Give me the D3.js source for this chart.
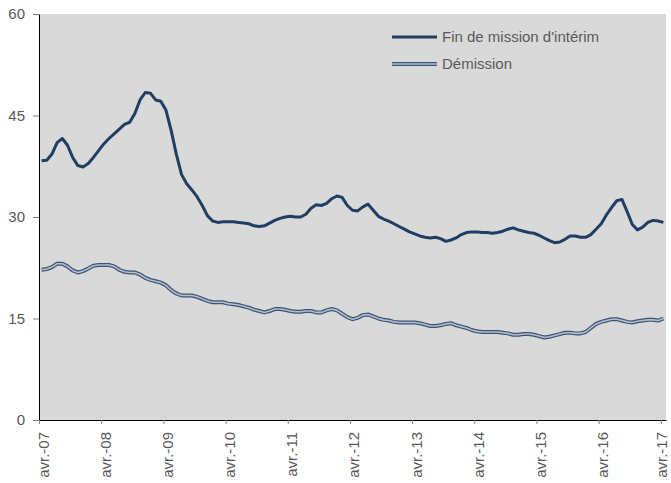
<!DOCTYPE html>
<html>
<head>
	<meta charset="utf-8">
	<title>Fin de mission d'intérim / Démission</title>
	<script src="https://cdn.jsdelivr.net/npm/d3@7/dist/d3.min.js"></script>
	<style type="text/css">
		html, body {
			margin: 0;
			padding: 0;
			background: #fff;
		}
		svg text {
			font-family: "Liberation Sans", Arial, sans-serif;
			font-size: 15px;
			fill: #595959;
		}
	</style>
</head>
<body>
	<div id="graph"></div>
	<script type="text/javascript">
		// monthly values, avr. 2007 -> avr. 2017
		var finMission = [
			38.3, 38.4, 39.3, 41.0, 41.6, 40.6, 38.8, 37.6, 37.4, 37.9, 38.8, 39.8,
			40.8, 41.6, 42.3, 43.0, 43.7, 44.0, 45.3, 47.3, 48.4, 48.3, 47.3, 47.1,
			45.8, 42.8, 39.3, 36.3, 34.9, 34.0, 33.0, 31.7, 30.2, 29.4, 29.2, 29.3,
			29.3, 29.3, 29.2, 29.1, 29.0, 28.7, 28.6, 28.7, 29.1, 29.5, 29.8, 30.0,
			30.1, 30.0, 30.0, 30.4, 31.3, 31.8, 31.7, 32.0, 32.7, 33.1, 32.9, 31.7,
			31.0, 30.9, 31.5, 31.9, 31.0, 30.1, 29.7, 29.4, 29.0, 28.6, 28.2, 27.8,
			27.5, 27.2, 27.0, 26.9, 27.0, 26.8, 26.4, 26.6, 26.9, 27.4, 27.7, 27.8,
			27.8, 27.7, 27.7, 27.6, 27.7, 27.9, 28.2, 28.4, 28.1, 27.9, 27.7, 27.6,
			27.3, 26.9, 26.5, 26.2, 26.3, 26.7, 27.2, 27.2, 27.0, 27.0, 27.4, 28.2,
			29.0, 30.3, 31.4, 32.4, 32.6, 30.8, 28.9, 28.1, 28.5, 29.2, 29.5, 29.4,
			29.2
		];
		var demission = [
			22.2, 22.3, 22.6, 23.1, 23.1, 22.7, 22.1, 21.8, 22.0, 22.4, 22.8, 22.9,
			22.9, 22.9, 22.7, 22.2, 21.9, 21.8, 21.8, 21.5, 21.0, 20.7, 20.5, 20.3,
			19.9, 19.2, 18.7, 18.4, 18.4, 18.4, 18.2, 17.9, 17.6, 17.4, 17.4, 17.4,
			17.2, 17.1, 17.0, 16.8, 16.6, 16.3, 16.1, 15.9, 16.1, 16.4, 16.4, 16.3,
			16.1, 16.0, 16.0, 16.1, 16.1, 15.9, 15.9, 16.2, 16.4, 16.2, 15.7, 15.2,
			14.9, 15.1, 15.5, 15.6, 15.3, 15.0, 14.8, 14.7, 14.5, 14.4, 14.4, 14.4,
			14.4, 14.3, 14.1, 13.9, 13.9, 14.0, 14.2, 14.3, 14.0, 13.8, 13.6, 13.3,
			13.1, 13.0, 13.0, 13.0, 13.0, 12.9, 12.8, 12.6, 12.6, 12.7, 12.7, 12.6,
			12.4, 12.2, 12.3, 12.5, 12.7, 12.9, 12.9, 12.8, 12.8, 13.0, 13.6, 14.2,
			14.5, 14.7, 14.9, 14.9, 14.7, 14.5, 14.4, 14.6, 14.7, 14.8, 14.8, 14.7,
			15.0
		];
		var xLabels = ["avr.-07", "avr.-08", "avr.-09", "avr.-10", "avr.-11", "avr.-12",
			"avr.-13", "avr.-14", "avr.-15", "avr.-16", "avr.-17"];
		var yTicks = [0, 15, 30, 45, 60];
		var seriesNames = ["Fin de mission d'intérim", "Démission"];

		var W = 671, H = 483,
			pLeft = 39, pRight = 666, pTop = 14, pBottom = 420;

		var x = d3.scaleLinear().domain([0, 121]).range([pLeft, pRight]);
		var y = d3.scaleLinear().domain([0, 60]).range([pBottom, pTop]);

		var vis = d3.select('#graph').append('svg')
			.attr('width', W)
			.attr('height', H);

		// plot background
		vis.append('rect')
			.attr('x', pLeft)
			.attr('y', pTop)
			.attr('width', pRight - pLeft)
			.attr('height', pBottom - pTop)
			.attr('fill', '#d9d9d9');

		var line = d3.line()
			.x(function(d, i) { return x(i + 0.5); })
			.y(function(d) { return y(d); });

		// Démission : double line
		vis.append('path')
			.datum(demission)
			.attr('d', line)
			.attr('fill', 'none')
			.attr('stroke', '#3b5377')
			.attr('stroke-width', 4)
			.attr('stroke-linejoin', 'round');
		vis.append('path')
			.datum(demission)
			.attr('d', line)
			.attr('fill', 'none')
			.attr('stroke', '#b4bfcc')
			.attr('stroke-width', 1.6)
			.attr('stroke-linejoin', 'round');

		// Fin de mission
		vis.append('path')
			.datum(finMission)
			.attr('d', line)
			.attr('fill', 'none')
			.attr('stroke', '#203e63')
			.attr('stroke-width', 3)
			.attr('stroke-linejoin', 'round');

		// y axis
		var yAxis = vis.append('g')
			.attr('transform', 'translate(' + pLeft + ',0)')
			.call(d3.axisLeft(y).tickValues(yTicks).tickSize(6).tickSizeOuter(0).tickPadding(8));
		yAxis.select('.domain').attr('stroke', '#000');
		yAxis.selectAll('.tick line').attr('stroke', '#808080');
		yAxis.selectAll('.tick text')
			.attr('fill', '#595959')
			.style('font-size', '15px')
			.style('font-family', '"Liberation Sans", Arial, sans-serif');

		// x axis
		var xAxis = vis.append('g')
			.attr('transform', 'translate(0,' + pBottom + ')')
			.call(d3.axisBottom(x)
				.tickValues(d3.range(xLabels.length).map(function(i) { return i * 12; }))
				.tickFormat(function(d, i) { return xLabels[i]; })
				.tickSize(4)
				.tickSizeOuter(0));
		xAxis.select('.domain').attr('stroke', '#000');
		xAxis.selectAll('.tick line').attr('stroke', '#808080');
		xAxis.selectAll('.tick text')
			.attr('fill', '#595959')
			.style('font-size', '15px')
			.style('font-family', '"Liberation Sans", Arial, sans-serif')
			.attr('text-anchor', 'end')
			.attr('y', 0)
			.attr('dy', 0)
			// last label is pushed against the right edge
			.attr('transform', function(d, i) {
				var dx = i == xLabels.length - 1 ? 6 : 9;
				return 'translate(' + dx + ',12) rotate(-90)';
			});

		// legend
		var legend = vis.append('g').attr('transform', 'translate(392,37)');
		var items = legend.selectAll('g')
			.data(seriesNames)
			.enter()
				.append('g')
				.attr('transform', function(d, i) { return 'translate(0,' + (i * 27) + ')'; });
		items.filter(function(d, i) { return i == 1; })
			.append('line')
				.attr('x1', 0).attr('x2', 45)
				.attr('stroke', '#3b5377')
				.attr('stroke-width', 4);
		items.append('line')
			.attr('x1', 0).attr('x2', 45)
			.attr('stroke', function(d, i) { return i == 0 ? '#203e63' : '#b4bfcc'; })
			.attr('stroke-width', function(d, i) { return i == 0 ? 3 : 1.6; });
		items.append('text')
			.attr('x', 50)
			.attr('dy', '0.35em')
			.text(function(d) { return d; });
	</script>
</body>
</html>
